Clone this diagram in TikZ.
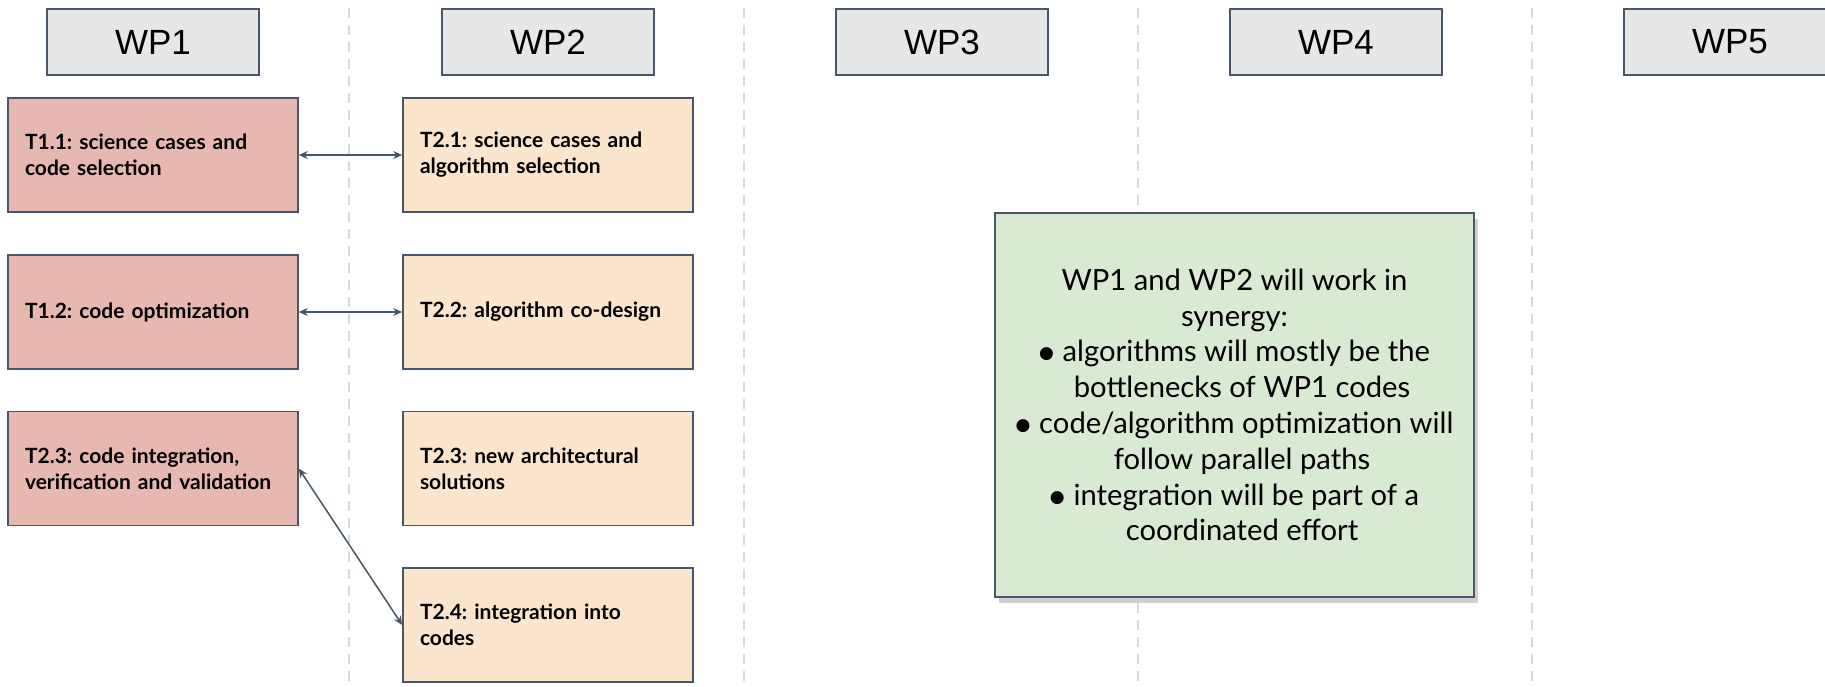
\documentclass[tikz,border=0pt]{standalone}
\usepackage{fontspec}
\setmainfont{Lato}
\newfontfamily\headfont{Liberation Sans}
\newfontfamily\symfont{DejaVu Sans}
\usetikzlibrary{arrows.meta,shadows}
\definecolor{edgec}{HTML}{47566B}
\definecolor{headfill}{HTML}{E7E7E7}
\definecolor{wpone}{HTML}{E6B8AF}
\definecolor{wptwo}{HTML}{FCE5CD}
\definecolor{notefill}{HTML}{D9EAD3}
\definecolor{sepc}{HTML}{D9D9D9}
\newcommand{\bul}{\raisebox{3pt}{\symfont\fontsize{17}{17}\selectfont ●}\hspace{0.3em}}
\frenchspacing
\begin{document}
\begin{tikzpicture}[x=1pt,y=-1pt,
  wp/.style={draw=edgec, line width=1.5pt, fill=headfill, minimum width=212pt, minimum height=66pt, inner sep=0pt, font=\headfont\fontsize{35}{35}\selectfont},
  task/.style={draw=edgec, line width=1.5pt, minimum width=290pt, minimum height=114pt, text width=256pt, inner xsep=17pt, inner ysep=0pt, align=left, font=\frenchspacing\bfseries\fontsize{21}{26}\selectfont},
  taskone/.style={task, fill=wpone},
  tasktwo/.style={task, fill=wptwo},
  note/.style={draw=edgec, line width=1.5pt, fill=notefill, minimum width=479pt, minimum height=384pt, inner sep=0pt, align=center, font=\fontsize{29.2}{35.8}\selectfont, drop shadow={shadow xshift=4pt, shadow yshift=-6pt, opacity=0.3, fill=black!60}},
  sep/.style={draw=sepc, line width=1.5pt, dash pattern=on 10pt off 7pt},
  conn/.style={draw=edgec, line width=1.5pt, {Stealth[length=9pt,width=8pt]}-{Stealth[length=9pt,width=8pt]}}
]
\useasboundingbox (0,0) rectangle (1825,687);
\fill[white] (0,0) rectangle (1825,687);
% separators
\foreach \sx in {349,744,1138,1532} \draw[sep] (\sx,8) -- (\sx,687);
% headers
\node[wp] (wp1) at (153,42) {WP1};
\node[wp] (wp2) at (548,42) {WP2};
\node[wp] (wp3) at (942,42) {WP3};
\node[wp] (wp4) at (1336,42) {WP4};
\node[wp] (wp5) at (1730,42) {WP5};
% tasks
\node[taskone] (t11) at (153,155) {T1.1: science cases and\\code selection};
\node[taskone] (t12) at (153,312) {T1.2: code optimization};
\node[taskone] (t13) at (153,468.5) {T2.3: code integration,\\verification and validation};
\node[tasktwo] (t21) at (548,155) {T2.1: science cases and\\algorithm selection};
\node[tasktwo] (t22) at (548,312) {T2.2: algorithm co-design};
\node[tasktwo] (t23) at (548,468.5) {T2.3: new architectural\\solutions};
\node[tasktwo] (t24) at (548,625) {T2.4: integration into\\codes};
% connectors
\draw[conn] (t11.east) -- (t21.west);
\draw[conn] (t12.east) -- (t22.west);
\draw[conn] (t13.east) -- (t24.west);
% note
\node[note] (syn) at (1234.5,405) {WP1 and WP2 will work in\\synergy:\\\bul algorithms will mostly be the\\\ \ bottlenecks of WP1 codes\\\bul code/algorithm optimization will\\\ \ follow parallel paths\\\bul integration will be part of a\\\ \ coordinated effort};
\end{tikzpicture}
\end{document}
